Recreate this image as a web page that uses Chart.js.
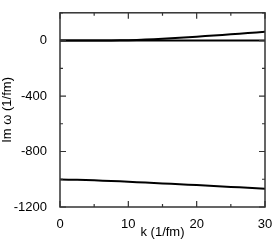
<!DOCTYPE html>
<html>
<head>
<meta charset="utf-8">
<script src="https://cdn.jsdelivr.net/npm/chart.js@4.4.0/dist/chart.umd.min.js"></script>
<style>
  html, body { margin: 0; padding: 0; background: #fff; }
  #wrap { width: 275px; height: 242px; }
</style>
</head>
<body>
<div id="wrap"><canvas id="c"></canvas></div>
<script>
// valeurs
const kValues = [0, 2.5, 5, 7.5, 10, 12.5, 15, 17.5, 20, 22.5, 25, 27.5, 30];
const flatBranch = [0, 0, 0, 0, 0, 0, 0, 0, 0, 0, 0, 0, 0];
const risingBranch = [0, 0, 0, 1, 3, 7, 13, 20, 28, 36, 45, 54, 63];
const lowerBranch = [-1002, -1004, -1008, -1012, -1018, -1024, -1030, -1036, -1042, -1049, -1055, -1062, -1068];

const xTicks = [0, 10, 20, 30];
const xMinorTicks = [5, 15, 25];
const yTicks = [-1200, -800, -400, 0];
const yMinorTicks = [-1000, -600, -200, 200];

function toPoints(values) {
    return kValues.map((k, i) => ({ x: k, y: values[i] }));
}

// cadre et graduations vers l'intérieur
const framePlugin = {
    id: "frame",
    afterDatasetsDraw(chart) {
        const ctx = chart.ctx;
        const area = chart.chartArea;
        const xs = chart.scales.x;
        const ys = chart.scales.y;
        ctx.save();
        ctx.strokeStyle = "#333";
        ctx.lineWidth = 1.5;
        ctx.strokeRect(area.left, area.top, area.right - area.left, area.bottom - area.top);
        ctx.lineWidth = 1.2;
        ctx.beginPath();
        const tickX = (v, len) => {
            const px = xs.getPixelForValue(v);
            ctx.moveTo(px, area.bottom); ctx.lineTo(px, area.bottom - len);
            ctx.moveTo(px, area.top); ctx.lineTo(px, area.top + len);
        };
        const tickY = (v, len) => {
            const py = ys.getPixelForValue(v);
            ctx.moveTo(area.left, py); ctx.lineTo(area.left + len, py);
            ctx.moveTo(area.right, py); ctx.lineTo(area.right - len, py);
        };
        xTicks.forEach(v => tickX(v, 6));
        xMinorTicks.forEach(v => tickX(v, 3));
        yTicks.forEach(v => tickY(v, 6));
        yMinorTicks.forEach(v => tickY(v, 3));
        ctx.stroke();
        ctx.restore();
    },
};

const font = { family: "'Liberation Sans', Arial, sans-serif", size: 13 };

new Chart(document.getElementById("c"), {
    type: "line",
    data: {
        datasets: [
            { data: toPoints(flatBranch), borderColor: "#000", borderWidth: 2, pointRadius: 0 },
            { data: toPoints(risingBranch), borderColor: "#000", borderWidth: 2, pointRadius: 0, tension: 0.3 },
            { data: toPoints(lowerBranch), borderColor: "#000", borderWidth: 2, pointRadius: 0, tension: 0.3 },
        ],
    },
    options: {
        responsive: true,
        maintainAspectRatio: false,
        animation: false,
        layout: { padding: { top: 1, right: 10, left: 0, bottom: 0 } },
        plugins: { legend: { display: false }, tooltip: { enabled: false } },
        scales: {
            x: {
                type: "linear",
                min: 0,
                max: 30,
                grid: { display: false },
                border: { display: false },
                afterBuildTicks: (s) => { s.ticks = xTicks.map(v => ({ value: v })); },
                afterFit: (s) => { s.height = 35; },
                ticks: { color: "#000", font: font, padding: 2, maxRotation: 0, callback: (v) => String(v) },
                title: { display: true, text: "k (1/fm)", color: "#000", font: font, padding: { top: 0, bottom: 2 } },
            },
            y: {
                type: "linear",
                min: -1200,
                max: 200,
                grid: { display: false },
                border: { display: false },
                afterBuildTicks: (s) => { s.ticks = yTicks.map(v => ({ value: v })); },
                afterFit: (s) => { s.width = 60; },
                ticks: { color: "#000", font: font, padding: 5, callback: (v) => String(v) },
                title: { display: true, text: "Im ω (1/fm)", color: "#000", font: font, padding: { top: 0, bottom: 2 } },
            },
        },
    },
    plugins: [framePlugin],
});
</script>
</body>
</html>
